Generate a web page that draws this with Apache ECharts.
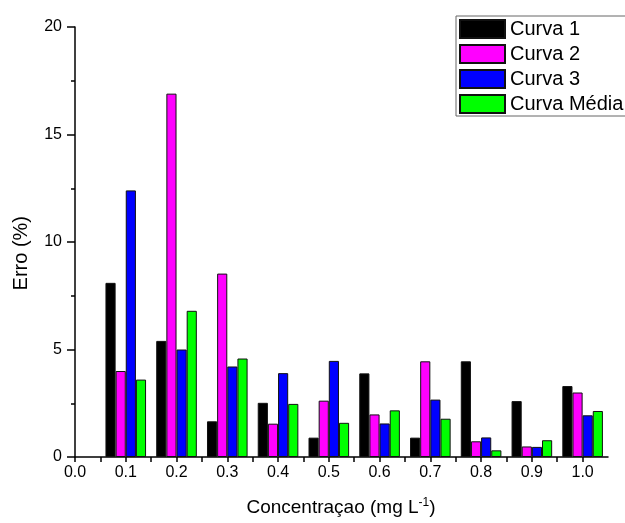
<!DOCTYPE html>
<html>
<head>
<meta charset="utf-8">
<script src="https://cdn.jsdelivr.net/npm/echarts@6/dist/echarts.min.js"></script>
<style>html,body{margin:0;padding:0;background:#fff}#c{width:625px;height:523px}</style>
</head>
<body>
<div id="c"></div>
<script>
const concentrations = [0.1, 0.2, 0.3, 0.4, 0.5, 0.6, 0.7, 0.8, 0.9, 1.0];
const seriesNames = ['Curva 1', 'Curva 2', 'Curva 3', 'Curva Média'];
const curva1 = [8.1, 5.4, 1.66, 2.52, 0.9, 3.89, 0.9, 4.45, 2.6, 3.3];
const curva2 = [4.0, 16.9, 8.53, 1.55, 2.62, 1.98, 4.45, 0.73, 0.49, 3.0];
const curva3 = [12.4, 5.0, 4.21, 3.9, 4.47, 1.56, 2.67, 0.91, 0.47, 1.94];
const curvaMedia = [3.6, 6.8, 4.58, 2.47, 1.59, 2.17, 1.78, 0.31, 0.78, 2.14];
const colors = ['#000000', '#ff00ff', '#0000ff', '#00ff00'];
const yTicks = [0, 5, 10, 15, 20];

const allValues = [curva1, curva2, curva3, curvaMedia];
const font = 'Arial, "Liberation Sans", sans-serif';

const chart = echarts.init(document.getElementById('c'));
chart.setOption({
  animation: false,
  backgroundColor: '#fff',
  grid: { left: 75, right: 17, top: 27, bottom: 66, containLabel: false },
  legend: {
    left: 456, top: 16,
    orient: 'vertical',
    padding: [3, 60, 2, 3],
    itemWidth: 45, itemHeight: 18, itemGap: 5,
    borderColor: '#666', borderWidth: 1,
    textStyle: { fontFamily: font, fontSize: 20, color: '#000' },
    data: seriesNames.map(n => ({ name: n, icon: 'rect' }))
  },
  xAxis: {
    type: 'value', min: 0, max: 1.05, interval: 0.05,
    axisLine: { show: true, lineStyle: { color: '#000', width: 1.5 } },
    axisTick: { show: true, inside: false, length: 5, lineStyle: { color: '#000', width: 1.5 } },
    axisLabel: {
      margin: 8, fontFamily: font, fontSize: 16, color: '#000',
      showMaxLabel: false,
      formatter: v => (Math.round(v * 20) % 2 === 0 ? v.toFixed(1) : '')
    },
    splitLine: { show: false }
  },
  yAxis: {
    type: 'value', min: yTicks[0], max: yTicks[yTicks.length - 1], interval: 5,
    axisLine: { show: true, lineStyle: { color: '#000', width: 1.5 } },
    axisTick: { show: true, length: 8, lineStyle: { color: '#000', width: 1.5 } },
    minorTick: { show: true, splitNumber: 2, length: 4, lineStyle: { color: '#000', width: 1.5 } },
    axisLabel: { margin: 13, fontFamily: font, fontSize: 16, color: '#000' },
    splitLine: { show: false }
  },
  graphic: [
    {
      type: 'text', left: 11, top: 216, rotation: Math.PI / 2,
      style: { text: 'Erro (%)', fontFamily: font, fontSize: 20, fill: '#000' }
    },
    {
      type: 'text', x: 341, y: 508,
      style: {
        text: '{n|Concentraçao (mg L}{s|-1}{n|)}',
        fontFamily: font, fill: '#000', align: 'center', verticalAlign: 'middle',
        rich: {
          n: { fontFamily: font, fontSize: 19, fill: '#000' },
          s: { fontFamily: font, fontSize: 12, fill: '#000', verticalAlign: 'top', padding: [0, 0, 10, 0] }
        }
      }
    }
  ],
  series: seriesNames.map((name, i) => ({
    name: name,
    type: 'bar',
    barWidth: 10.15,
    barGap: '0%',
    itemStyle: { color: colors[i], borderColor: '#111', borderWidth: 1 },
    data: concentrations.map((c, j) => [c, allValues[i][j]])
  }))
});
</script>
</body>
</html>
